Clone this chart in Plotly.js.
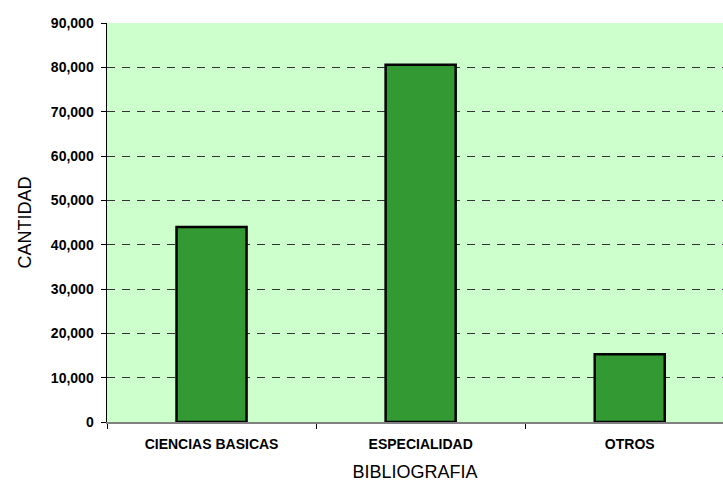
<!DOCTYPE html>
<html>
<head>
<meta charset="utf-8">
<script src="https://cdn.plot.ly/plotly-3.0.1.min.js"></script>
<style>html,body{margin:0;padding:0;background:#fff;}#chart{width:723px;height:482px;}</style>
</head>
<body>
<div id="chart"></div>
<script>
const categories = ["CIENCIAS BASICAS", "ESPECIALIDAD", "OTROS"];
const cantidad = [44000, 80600, 15300];
const yTickValues = [0, 10000, 20000, 30000, 40000, 50000, 60000, 70000, 80000, 90000];

const trace = {
  type: "bar",
  x: categories,
  y: cantidad,
  width: 0.335,
  marker: { color: "#339933", line: { color: "#000000", width: 2.5 } },
  hoverinfo: "x+y"
};

const layout = {
  width: 723,
  height: 482,
  margin: { l: 106.5, r: 0, t: 23, b: 59.5 },
  paper_bgcolor: "#ffffff",
  plot_bgcolor: "#CCFFCC",
  showlegend: false,
  font: { family: "Liberation Sans, Arial, sans-serif", color: "#000000" },
  xaxis: {
    type: "category",
    range: [-0.5, 2.446],
    tickson: "boundaries",
    ticks: "outside",
    ticklen: 5,
    tickcolor: "#000000",
    showgrid: false,
    showline: true,
    linecolor: "#808080",
    linewidth: 1.5,
    ticklabelstandoff: 9,
    tickfont: { family: "Liberation Sans, Arial, sans-serif", size: 14, color: "#000000", weight: "bold" },
    title: { text: "BIBLIOGRAFIA", font: { size: 18, color: "#000000" }, standoff: 19 },
    fixedrange: true
  },
  yaxis: {
    range: [0, 90000],
    tickvals: yTickValues,
    tickformat: ",.0f",
    ticks: "outside",
    ticklen: 5,
    tickcolor: "#000000",
    showline: true,
    linecolor: "#000000",
    linewidth: 1.5,
    showgrid: true,
    gridcolor: "#333333",
    griddash: "8px,7px",
    gridwidth: 1,
    zeroline: false,
    ticklabelstandoff: 4,
    tickfont: { family: "Liberation Sans, Arial, sans-serif", size: 14, color: "#000000", weight: "bold" },
    title: { text: "CANTIDAD", font: { size: 18, color: "#000000" }, standoff: 14 },
    fixedrange: true
  },
  bargap: 0
};

Plotly.newPlot("chart", [trace], layout, { displayModeBar: false, staticPlot: true });
</script>
</body>
</html>
